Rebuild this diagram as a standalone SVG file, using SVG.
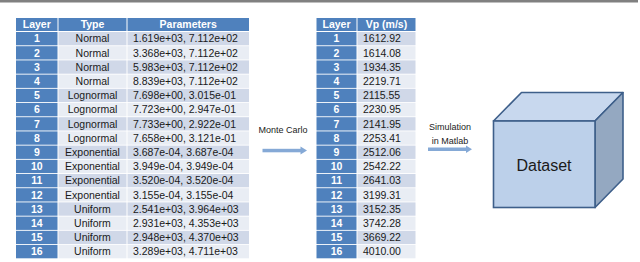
<svg xmlns="http://www.w3.org/2000/svg" width="640" height="262" viewBox="0 0 640 262">
<style>
.hd{fill:#4F81BD}
.lc{fill:#4F81BD}
.o{fill:#D0D8E8}
.e{fill:#E9EDF4}
.ht{font-family:"Liberation Sans",Arial,sans-serif;font-size:10.5px;font-weight:bold;fill:#fff;text-anchor:middle}
.nt{font-family:"Liberation Sans",Arial,sans-serif;font-size:10.5px;font-weight:bold;fill:#fff;text-anchor:middle}
.ct{font-family:"Liberation Sans",Arial,sans-serif;font-size:10.5px;fill:#1a1a1a;text-anchor:middle}
.pt{font-family:"Liberation Sans",Arial,sans-serif;font-size:10.5px;fill:#1a1a1a}
.lb{font-family:"Liberation Sans",Arial,sans-serif;font-size:9px;fill:#222;text-anchor:middle}
.ar{fill:#85A9D6}
</style>
<rect x="0" y="0" width="638" height="2.5" fill="#808080"/>
<g id="params-table">
<rect class="hd" x="16" y="18" width="41.5" height="13"/>
<rect class="hd" x="58.5" y="18" width="68" height="13"/>
<rect class="hd" x="127.5" y="18" width="121.5" height="13"/>
<text class="ht" x="36.8" y="28.3">Layer</text>
<text class="ht" x="92.5" y="28.3">Type</text>
<text class="ht" x="188.2" y="28.3">Parameters</text>
<g id="prow1"><rect class="lc" x="16" y="32" width="41.5" height="13.3"/><rect class="o" x="58.5" y="32" width="68" height="13.3"/><rect class="o" x="127.5" y="32" width="121.5" height="13.3"/><text class="nt" x="36.8" y="42.3">1</text><text class="ct" x="92.5" y="42.3">Normal</text><text class="pt" x="133" y="42.3">1.619e+03, 7.112e+02</text></g>
<g id="prow2"><rect class="lc" x="16" y="46.2" width="41.5" height="13.3"/><rect class="e" x="58.5" y="46.2" width="68" height="13.3"/><rect class="e" x="127.5" y="46.2" width="121.5" height="13.3"/><text class="nt" x="36.8" y="56.5">2</text><text class="ct" x="92.5" y="56.5">Normal</text><text class="pt" x="133" y="56.5">3.368e+03, 7.112e+02</text></g>
<g id="prow3"><rect class="lc" x="16" y="60.4" width="41.5" height="13.3"/><rect class="o" x="58.5" y="60.4" width="68" height="13.3"/><rect class="o" x="127.5" y="60.4" width="121.5" height="13.3"/><text class="nt" x="36.8" y="70.7">3</text><text class="ct" x="92.5" y="70.7">Normal</text><text class="pt" x="133" y="70.7">5.983e+03, 7.112e+02</text></g>
<g id="prow4"><rect class="lc" x="16" y="74.6" width="41.5" height="13.3"/><rect class="e" x="58.5" y="74.6" width="68" height="13.3"/><rect class="e" x="127.5" y="74.6" width="121.5" height="13.3"/><text class="nt" x="36.8" y="84.9">4</text><text class="ct" x="92.5" y="84.9">Normal</text><text class="pt" x="133" y="84.9">8.839e+03, 7.112e+02</text></g>
<g id="prow5"><rect class="lc" x="16" y="88.8" width="41.5" height="13.3"/><rect class="o" x="58.5" y="88.8" width="68" height="13.3"/><rect class="o" x="127.5" y="88.8" width="121.5" height="13.3"/><text class="nt" x="36.8" y="99.1">5</text><text class="ct" x="92.5" y="99.1">Lognormal</text><text class="pt" x="133" y="99.1">7.698e+00, 3.015e-01</text></g>
<g id="prow6"><rect class="lc" x="16" y="103" width="41.5" height="13.3"/><rect class="e" x="58.5" y="103" width="68" height="13.3"/><rect class="e" x="127.5" y="103" width="121.5" height="13.3"/><text class="nt" x="36.8" y="113.3">6</text><text class="ct" x="92.5" y="113.3">Lognormal</text><text class="pt" x="133" y="113.3">7.723e+00, 2.947e-01</text></g>
<g id="prow7"><rect class="lc" x="16" y="117.2" width="41.5" height="13.3"/><rect class="o" x="58.5" y="117.2" width="68" height="13.3"/><rect class="o" x="127.5" y="117.2" width="121.5" height="13.3"/><text class="nt" x="36.8" y="127.5">7</text><text class="ct" x="92.5" y="127.5">Lognormal</text><text class="pt" x="133" y="127.5">7.733e+00, 2.922e-01</text></g>
<g id="prow8"><rect class="lc" x="16" y="131.4" width="41.5" height="13.3"/><rect class="e" x="58.5" y="131.4" width="68" height="13.3"/><rect class="e" x="127.5" y="131.4" width="121.5" height="13.3"/><text class="nt" x="36.8" y="141.7">8</text><text class="ct" x="92.5" y="141.7">Lognormal</text><text class="pt" x="133" y="141.7">7.658e+00, 3.121e-01</text></g>
<g id="prow9"><rect class="lc" x="16" y="145.6" width="41.5" height="13.3"/><rect class="o" x="58.5" y="145.6" width="68" height="13.3"/><rect class="o" x="127.5" y="145.6" width="121.5" height="13.3"/><text class="nt" x="36.8" y="155.9">9</text><text class="ct" x="92.5" y="155.9">Exponential</text><text class="pt" x="133" y="155.9">3.687e-04, 3.687e-04</text></g>
<g id="prow10"><rect class="lc" x="16" y="159.8" width="41.5" height="13.3"/><rect class="e" x="58.5" y="159.8" width="68" height="13.3"/><rect class="e" x="127.5" y="159.8" width="121.5" height="13.3"/><text class="nt" x="36.8" y="170.1">10</text><text class="ct" x="92.5" y="170.1">Exponential</text><text class="pt" x="133" y="170.1">3.949e-04, 3.949e-04</text></g>
<g id="prow11"><rect class="lc" x="16" y="174" width="41.5" height="13.3"/><rect class="o" x="58.5" y="174" width="68" height="13.3"/><rect class="o" x="127.5" y="174" width="121.5" height="13.3"/><text class="nt" x="36.8" y="184.3">11</text><text class="ct" x="92.5" y="184.3">Exponential</text><text class="pt" x="133" y="184.3">3.520e-04, 3.520e-04</text></g>
<g id="prow12"><rect class="lc" x="16" y="188.2" width="41.5" height="13.3"/><rect class="e" x="58.5" y="188.2" width="68" height="13.3"/><rect class="e" x="127.5" y="188.2" width="121.5" height="13.3"/><text class="nt" x="36.8" y="198.5">12</text><text class="ct" x="92.5" y="198.5">Exponential</text><text class="pt" x="133" y="198.5">3.155e-04, 3.155e-04</text></g>
<g id="prow13"><rect class="lc" x="16" y="202.4" width="41.5" height="13.3"/><rect class="o" x="58.5" y="202.4" width="68" height="13.3"/><rect class="o" x="127.5" y="202.4" width="121.5" height="13.3"/><text class="nt" x="36.8" y="212.7">13</text><text class="ct" x="92.5" y="212.7">Uniform</text><text class="pt" x="133" y="212.7">2.541e+03, 3.964e+03</text></g>
<g id="prow14"><rect class="lc" x="16" y="216.6" width="41.5" height="13.3"/><rect class="e" x="58.5" y="216.6" width="68" height="13.3"/><rect class="e" x="127.5" y="216.6" width="121.5" height="13.3"/><text class="nt" x="36.8" y="226.9">14</text><text class="ct" x="92.5" y="226.9">Uniform</text><text class="pt" x="133" y="226.9">2.931e+03, 4.353e+03</text></g>
<g id="prow15"><rect class="lc" x="16" y="230.8" width="41.5" height="13.3"/><rect class="o" x="58.5" y="230.8" width="68" height="13.3"/><rect class="o" x="127.5" y="230.8" width="121.5" height="13.3"/><text class="nt" x="36.8" y="241.1">15</text><text class="ct" x="92.5" y="241.1">Uniform</text><text class="pt" x="133" y="241.1">2.948e+03, 4.370e+03</text></g>
<g id="prow16"><rect class="lc" x="16" y="245" width="41.5" height="13.3"/><rect class="e" x="58.5" y="245" width="68" height="13.3"/><rect class="e" x="127.5" y="245" width="121.5" height="13.3"/><text class="nt" x="36.8" y="255.3">16</text><text class="ct" x="92.5" y="255.3">Uniform</text><text class="pt" x="133" y="255.3">3.289e+03, 4.711e+03</text></g>
</g>
<g id="vp-table">
<rect class="hd" x="316.5" y="18" width="40" height="13"/>
<rect class="hd" x="357.5" y="18" width="58" height="13"/>
<text class="ht" x="336.5" y="28.3">Layer</text>
<text class="ht" x="386.5" y="28.3">Vp (m/s)</text>
<g id="vrow1"><rect class="lc" x="316.5" y="32" width="40" height="13.3"/><rect class="o" x="357.5" y="32" width="58" height="13.3"/><text class="nt" x="336.5" y="42.3">1</text><text class="pt" x="363" y="42.3">1612.92</text></g>
<g id="vrow2"><rect class="lc" x="316.5" y="46.2" width="40" height="13.3"/><rect class="e" x="357.5" y="46.2" width="58" height="13.3"/><text class="nt" x="336.5" y="56.5">2</text><text class="pt" x="363" y="56.5">1614.08</text></g>
<g id="vrow3"><rect class="lc" x="316.5" y="60.4" width="40" height="13.3"/><rect class="o" x="357.5" y="60.4" width="58" height="13.3"/><text class="nt" x="336.5" y="70.7">3</text><text class="pt" x="363" y="70.7">1934.35</text></g>
<g id="vrow4"><rect class="lc" x="316.5" y="74.6" width="40" height="13.3"/><rect class="e" x="357.5" y="74.6" width="58" height="13.3"/><text class="nt" x="336.5" y="84.9">4</text><text class="pt" x="363" y="84.9">2219.71</text></g>
<g id="vrow5"><rect class="lc" x="316.5" y="88.8" width="40" height="13.3"/><rect class="o" x="357.5" y="88.8" width="58" height="13.3"/><text class="nt" x="336.5" y="99.1">5</text><text class="pt" x="363" y="99.1">2115.55</text></g>
<g id="vrow6"><rect class="lc" x="316.5" y="103" width="40" height="13.3"/><rect class="e" x="357.5" y="103" width="58" height="13.3"/><text class="nt" x="336.5" y="113.3">6</text><text class="pt" x="363" y="113.3">2230.95</text></g>
<g id="vrow7"><rect class="lc" x="316.5" y="117.2" width="40" height="13.3"/><rect class="o" x="357.5" y="117.2" width="58" height="13.3"/><text class="nt" x="336.5" y="127.5">7</text><text class="pt" x="363" y="127.5">2141.95</text></g>
<g id="vrow8"><rect class="lc" x="316.5" y="131.4" width="40" height="13.3"/><rect class="e" x="357.5" y="131.4" width="58" height="13.3"/><text class="nt" x="336.5" y="141.7">8</text><text class="pt" x="363" y="141.7">2253.41</text></g>
<g id="vrow9"><rect class="lc" x="316.5" y="145.6" width="40" height="13.3"/><rect class="o" x="357.5" y="145.6" width="58" height="13.3"/><text class="nt" x="336.5" y="155.9">9</text><text class="pt" x="363" y="155.9">2512.06</text></g>
<g id="vrow10"><rect class="lc" x="316.5" y="159.8" width="40" height="13.3"/><rect class="e" x="357.5" y="159.8" width="58" height="13.3"/><text class="nt" x="336.5" y="170.1">10</text><text class="pt" x="363" y="170.1">2542.22</text></g>
<g id="vrow11"><rect class="lc" x="316.5" y="174" width="40" height="13.3"/><rect class="o" x="357.5" y="174" width="58" height="13.3"/><text class="nt" x="336.5" y="184.3">11</text><text class="pt" x="363" y="184.3">2641.03</text></g>
<g id="vrow12"><rect class="lc" x="316.5" y="188.2" width="40" height="13.3"/><rect class="e" x="357.5" y="188.2" width="58" height="13.3"/><text class="nt" x="336.5" y="198.5">12</text><text class="pt" x="363" y="198.5">3199.31</text></g>
<g id="vrow13"><rect class="lc" x="316.5" y="202.4" width="40" height="13.3"/><rect class="o" x="357.5" y="202.4" width="58" height="13.3"/><text class="nt" x="336.5" y="212.7">13</text><text class="pt" x="363" y="212.7">3152.35</text></g>
<g id="vrow14"><rect class="lc" x="316.5" y="216.6" width="40" height="13.3"/><rect class="e" x="357.5" y="216.6" width="58" height="13.3"/><text class="nt" x="336.5" y="226.9">14</text><text class="pt" x="363" y="226.9">3742.28</text></g>
<g id="vrow15"><rect class="lc" x="316.5" y="230.8" width="40" height="13.3"/><rect class="o" x="357.5" y="230.8" width="58" height="13.3"/><text class="nt" x="336.5" y="241.1">15</text><text class="pt" x="363" y="241.1">3669.22</text></g>
<g id="vrow16"><rect class="lc" x="316.5" y="245" width="40" height="13.3"/><rect class="e" x="357.5" y="245" width="58" height="13.3"/><text class="nt" x="336.5" y="255.3">16</text><text class="pt" x="363" y="255.3">4010.00</text></g>
</g>
<g id="dataset">
<polygon points="493.5,121 521.5,92.5 623,92.5 595,121" fill="#C8D8EE" stroke="#3E5F8A" stroke-width="1.6" stroke-linejoin="round"/>
<polygon points="595,121 623,92.5 623,179 595,207.5" fill="#94A8C1" stroke="#3E5F8A" stroke-width="1.6" stroke-linejoin="round"/>
<rect x="493.5" y="121" width="101.5" height="86.5" fill="#BCD0EA" stroke="#3E5F8A" stroke-width="1.6"/>
<text x="544" y="170.5" font-family="'Liberation Sans',Arial,sans-serif" font-size="16" fill="#1a1a1a" text-anchor="middle">Dataset</text>
</g>
<g id="connectors">
<text class="lb" x="283" y="132.5">Monte Carlo</text>
<rect class="ar" x="262.5" y="148.8" width="39" height="3.5"/>
<polygon class="ar" points="300.5,146.5 307,150.5 300.5,154.5"/>
<text class="lb" x="450" y="130">Simulation</text>
<text class="lb" x="450" y="143.5">in Matlab</text>
<rect class="ar" x="428" y="147.5" width="39" height="3.5"/>
<polygon class="ar" points="466,145.5 472,149.3 466,153"/>
</g>
</svg>
